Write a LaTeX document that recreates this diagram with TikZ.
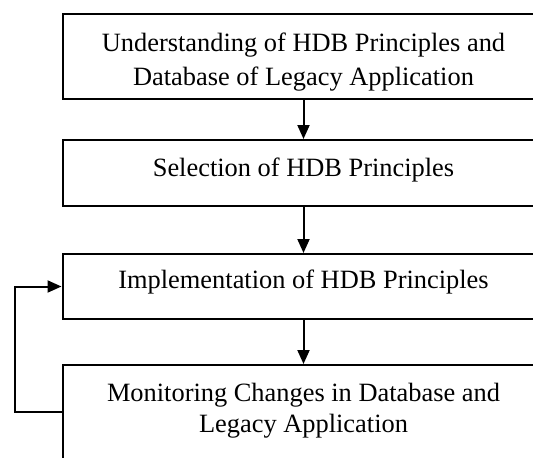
\documentclass[tikz,border=0pt]{standalone}
\usepackage{fontspec}
\setmainfont{Liberation Serif}
\usetikzlibrary{arrows.meta}
\begin{document}
\begin{tikzpicture}[x=1pt,y=-1pt,
  stage/.style={draw=black, line width=2pt, rectangle, minimum width=482pt, inner sep=0pt},
  caption/.style={anchor=base, inner sep=0pt, font=\fontsize{26.4}{32}\selectfont},
  flow/.style={draw=black, line width=2pt, -{Triangle[length=14pt,width=12pt]}}]
  \clip (0,0) rectangle (533,458);
  \fill[white] (0,0) rectangle (533,458);

  % process stages
  \node[stage, minimum height=85pt] (b1) at (303.5,56.5) {};
  \node[stage, minimum height=66pt] (b2) at (303.5,173) {};
  \node[stage, minimum height=65pt] (b3) at (303.5,286.5) {};
  \node[stage, minimum height=155pt] (b4) at (303.5,442.5) {};

  % stage captions
  \node[caption] (t1a) at (303.5,51.7) {Understanding of HDB Principles and};
  \node[caption] (t1b) at (303.5,85) {Database of Legacy Application};
  \node[caption] (t2) at (303.5,176) {Selection of HDB Principles};
  \node[caption] (t3) at (303.5,288.5) {Implementation of HDB Principles};
  \node[caption] (t4a) at (303.5,401) {Monitoring Changes in Database and};
  \node[caption] (t4b) at (303.5,432) {Legacy Application};

  % forward flow
  \draw[flow] (b1.south) -- (b2.north);
  \draw[flow] (b2.south) -- (b3.north);
  \draw[flow] (b3.south) -- (b4.north);

  % feedback loop from monitoring back to implementation
  \coordinate (loop) at (15,412);
  \draw[flow] (b4.west |- loop) -- (loop) |- (b3.west);
\end{tikzpicture}
\end{document}
